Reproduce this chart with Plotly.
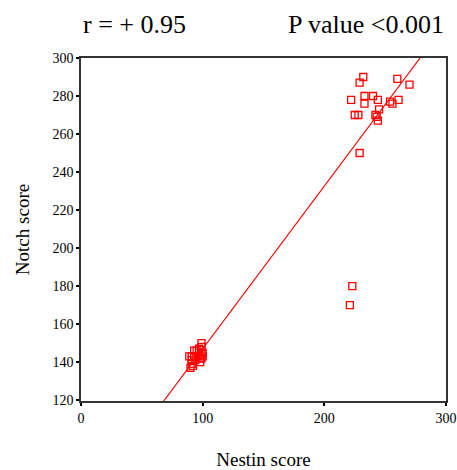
import numpy as np
import plotly.graph_objects as go

nestin = [99, 99, 97, 95, 93, 97, 100, 99, 91, 89, 93, 96, 100, 98, 99, 91, 94, 98, 91, 90, 92,
          232, 229, 260, 270, 222, 233, 240, 244, 233, 254, 256, 261, 245, 225, 228, 242, 243, 244, 229,
          223, 221]
notch = [150, 148, 147, 146, 146, 145, 145, 144, 143, 143, 143, 143, 143, 142, 142, 141, 141, 140, 139, 137, 138,
         290, 287, 289, 286, 278, 280, 280, 278, 276, 277, 276, 278, 273, 270, 270, 270, 269, 267, 250,
         180, 170]

x_ticks = [0, 100, 200, 300]
y_ticks = [120, 140, 160, 180, 200, 220, 240, 260, 280, 300]

slope, intercept = np.polyfit(nestin, notch, 1)
line_x = np.array([(119.5 - intercept) / slope, (300 - intercept) / slope])
line_y = slope * line_x + intercept

fig = go.Figure()
fig.add_trace(go.Scatter(x=line_x, y=line_y, mode="lines",
                         line=dict(color="#ff0000", width=1.2), showlegend=False))
fig.add_trace(go.Scatter(x=nestin, y=notch, mode="markers",
                         marker=dict(symbol="square-open", size=7, color="#ff0000",
                                     line=dict(width=1.3, color="#ff0000")),
                         showlegend=False))

font_family = "Liberation Serif"
fig.update_layout(
    width=457, height=470,
    margin=dict(l=81, r=11, t=58, b=69),
    paper_bgcolor="white", plot_bgcolor="white",
    font=dict(family=font_family, color="black", size=13),
    xaxis=dict(range=[0, 300], tickvals=x_ticks, showgrid=False, zeroline=False,
               showline=True, linecolor="#333333", linewidth=1.5, mirror=True,
               ticks="outside", ticklen=3, tickwidth=2, tickcolor="black",
               tickfont=dict(size=14, family=font_family), automargin=False,
               title=dict(text="Nestin score", font=dict(size=19, family=font_family), standoff=30)),
    yaxis=dict(range=[119.5, 300], tickvals=y_ticks, showgrid=False, zeroline=False,
               showline=True, linecolor="#333333", linewidth=1.5, mirror=True,
               ticks="outside", ticklen=3, tickwidth=2, tickcolor="black",
               tickfont=dict(size=14, family=font_family), automargin=False,
               title=dict(text="Notch score", font=dict(size=19, family=font_family), standoff=18)),
    annotations=[
        dict(text="r = + 0.95", xref="paper", yref="paper", x=0.0, y=1.0, xanchor="left",
             yanchor="middle", yshift=34, showarrow=False, font=dict(size=26, family=font_family)),
        dict(text="P value <0.001", xref="paper", yref="paper", x=1.0, y=1.0, xanchor="right",
             yanchor="middle", yshift=34, showarrow=False, font=dict(size=26, family=font_family)),
    ],
)

fig.write_html("out.html", config={"displayModeBar": False},
               post_script="document.body.style.margin='0';document.body.style.overflow='hidden';")
